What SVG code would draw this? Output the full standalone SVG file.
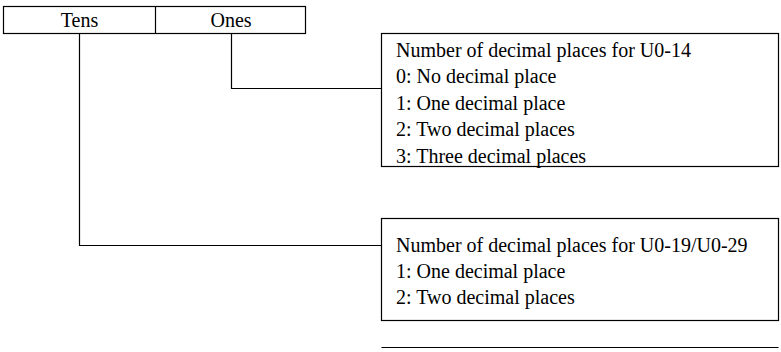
<svg xmlns="http://www.w3.org/2000/svg" width="781" height="352" viewBox="0 0 781 352">
<style>
.t{font-family:"Liberation Serif","Times New Roman",serif;font-size:20px;fill:#000}
.c{text-anchor:middle}
.b{fill:#fff;stroke:#000;stroke-width:1.2}
.l{fill:none;stroke:#000;stroke-width:1.2}
</style>
<rect width="781" height="352" fill="#fff"/>
<g id="digits">
<rect class="b" x="3.5" y="6.5" width="302" height="27"/>
<line class="l" x1="155.5" y1="6.5" x2="155.5" y2="33.5"/>
<text class="t c" x="79.5" y="27">Tens</text>
<text class="t c" x="231" y="27">Ones</text>
</g>
<g id="connectors">
<polyline class="l" points="231.5,33.5 231.5,88.5 381.5,88.5"/>
<polyline class="l" points="79.5,33.5 79.5,245.5 381.5,245.5"/>
</g>
<g id="ones-box">
<rect class="b" x="381.5" y="33.5" width="397" height="133"/>
<text class="t" x="396" y="56.5">Number of decimal places for U0-14</text>
<text class="t" x="396" y="83">0: No decimal place</text>
<text class="t" x="396" y="109.5">1: One decimal place</text>
<text class="t" x="396" y="136">2: Two decimal places</text>
<text class="t" x="396" y="162.5">3: Three decimal places</text>
</g>
<g id="tens-box">
<rect class="b" x="381.5" y="218.5" width="397" height="102"/>
<text class="t" x="396" y="252">Number of decimal places for U0-19/U0-29</text>
<text class="t" x="396" y="278">1: One decimal place</text>
<text class="t" x="396" y="304">2: Two decimal places</text>
</g>
<g id="rule">
<line class="l" x1="381.5" y1="347.5" x2="778.5" y2="347.5"/>
</g>
</svg>
